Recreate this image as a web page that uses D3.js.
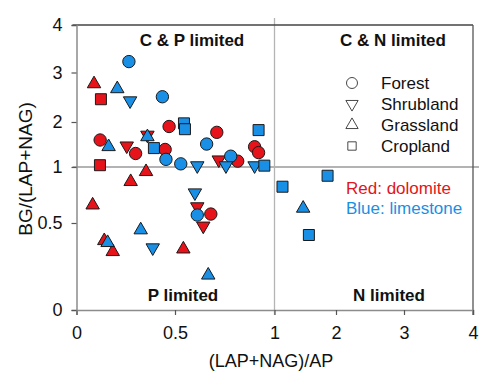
<!DOCTYPE html>
<html>
<head>
<meta charset="utf-8">
<script src="https://cdn.jsdelivr.net/npm/d3@7"></script>
<style>
  body { margin: 0; background: #fff; }
  text { font-family: "Liberation Sans", Arial, sans-serif; }
</style>
</head>
<body>
<div id="chart"></div>
<script>

// tick values (axes are piecewise: 0-1 stretched, 1-4 compressed)
var x_ticks = [0, 0.5, 1, 2, 3, 4];
var y_ticks = [0, 0.5, 1, 2, 3, 4];

var land_uses = ["Forest", "Shrubland", "Grassland", "Cropland"];

// Red: dolomite  [ (LAP+NAG)/AP , BG/(LAP+NAG) ]
var red_forest = [
    [0.47, 1.90], [0.71, 1.77], [0.12, 1.60], [0.30, 1.30], [0.45, 1.39],
    [0.90, 1.45], [0.92, 1.32], [0.815, 1.13], [0.68, 0.58]
];
var red_shrub = [
    [0.255, 1.47], [0.36, 1.71], [0.72, 1.16], [0.612, 0.646], [0.642, 0.483]
];
var red_grass = [
    [0.089, 2.77], [0.353, 0.958], [0.275, 0.869], [0.082, 0.66],
    [0.141, 0.398], [0.184, 0.335], [0.542, 0.35]
];
var red_crop = [
    [0.124, 2.46], [0.119, 1.04]
];

// Blue: limestone
var blue_forest = [
    [0.266, 3.23], [0.436, 2.51], [0.659, 1.51], [0.454, 1.17],
    [0.529, 1.07], [0.78, 1.24], [0.612, 0.571]
];
var blue_shrub = [
    [0.272, 2.43], [0.612, 1.03], [0.756, 1.03], [0.90, 1.03],
    [0.60, 0.77], [0.387, 0.358]
];
var blue_grass = [
    [0.207, 2.67], [0.163, 1.45], [0.36, 1.67], [0.326, 0.46],
    [0.158, 0.387], [0.667, 0.20], [1.466, 0.631]
];
var blue_crop = [
    [0.545, 1.97], [0.55, 1.84], [0.92, 1.82], [0.393, 1.42],
    [0.949, 1.03], [1.13, 0.824], [1.863, 0.922], [1.559, 0.431]
];

// --------------------------------------------------------

var chart_width  = 500;
var chart_height = 376;

var red_fill  = "#e6131b";
var blue_fill = "#1a8fe6";

var svg = d3.select("#chart")
    .append("svg")
    .attr("width", chart_width)
    .attr("height", chart_height);

// piecewise scales, matching the tick spacing of the original
var x_scale = d3.scaleLinear()
    .domain(x_ticks)
    .range([76.5, 175, 274.5, 336, 404, 473]);

var y_scale = d3.scaleLinear()
    .domain(y_ticks)
    .range([310, 223, 167, 122, 72.5, 25]);

// --------------------------------------------------------
// frame and quadrant lines

var x0 = x_scale(0), x1 = x_scale(1), x4 = x_scale(4);
var y0 = y_scale(0), y1 = y_scale(1), y4 = y_scale(4);

var frame = svg.append("g");

// quadrant dividers
frame.append("line")
    .attr("x1", x0 - 4).attr("x2", x4 + 6)
    .attr("y1", y1).attr("y2", y1)
    .attr("stroke", "#9a9a9a").attr("stroke-width", 1.3);
frame.append("line")
    .attr("x1", x1).attr("x2", x1)
    .attr("y1", y4 - 7).attr("y2", y0 + 5)
    .attr("stroke", "#b4b4b4").attr("stroke-width", 1.3);

// top and right border
frame.append("line")
    .attr("x1", x0 - 4).attr("x2", x4)
    .attr("y1", y4).attr("y2", y4)
    .attr("stroke", "#444").attr("stroke-width", 1.3);
frame.append("line")
    .attr("x1", x4).attr("x2", x4)
    .attr("y1", y4).attr("y2", y0 + 5)
    .attr("stroke", "#555").attr("stroke-width", 1.3);

// axes
var x_axis = d3.axisBottom(x_scale)
    .tickValues(x_ticks)
    .tickSize(5)
    .tickPadding(11)
    .tickFormat(d3.format("~g"));

var y_axis = d3.axisLeft(y_scale)
    .tickValues(y_ticks)
    .tickSize(5)
    .tickPadding(9)
    .tickFormat(d3.format("~g"));

var gx = svg.append("g")
    .attr("transform", "translate(0," + y0 + ")")
    .call(x_axis);

var gy = svg.append("g")
    .attr("transform", "translate(" + x0 + ",0)")
    .call(y_axis);

[gx, gy].forEach(function (g) {
    g.select(".domain")
        .attr("stroke", "#8c8c8c")
        .attr("stroke-width", 1.5);
    g.selectAll(".tick line")
        .attr("stroke", "#555")
        .attr("stroke-width", 1.2);
    g.selectAll(".tick text")
        .attr("fill", "#111")
        .style("font-size", "18px")
        .style("font-family", "Liberation Sans, Arial, sans-serif");
});

// axis titles
svg.append("text")
    .attr("x", 271)
    .attr("y", 367)
    .attr("text-anchor", "middle")
    .style("font-size", "18px")
    .attr("fill", "#111")
    .text("(LAP+NAG)/AP");

svg.append("text")
    .attr("transform", "translate(32,169) rotate(-90)")
    .attr("text-anchor", "middle")
    .style("font-size", "19px")
    .attr("fill", "#111")
    .text("BG/(LAP+NAG)");

// --------------------------------------------------------
// points

var shapes = [
    { type: d3.symbolCircle,   size: 120, rot: 0 },
    { type: d3.symbolTriangle, size: 78,  rot: 180 },
    { type: d3.symbolTriangle, size: 78,  rot: 0 },
    { type: d3.symbolSquare,   size: 121, rot: 0 }
];

var groups = [
    { data: red_forest,  shape: 0, fill: red_fill },
    { data: red_shrub,   shape: 1, fill: red_fill },
    { data: red_grass,   shape: 2, fill: red_fill },
    { data: red_crop,    shape: 3, fill: red_fill },
    { data: blue_forest, shape: 0, fill: blue_fill },
    { data: blue_shrub,  shape: 1, fill: blue_fill },
    { data: blue_grass,  shape: 2, fill: blue_fill },
    { data: blue_crop,   shape: 3, fill: blue_fill }
];

var points = svg.append("g");

groups.forEach(function (grp) {
    var s = shapes[grp.shape];
    points.append("g")
        .selectAll("path")
        .data(grp.data)
        .enter()
        .append("path")
        .attr("d", d3.symbol().type(s.type).size(s.size))
        .attr("transform", function (d) {
            return "translate(" + x_scale(d[0]) + "," + y_scale(d[1]) + ") rotate(" + s.rot + ")";
        })
        .attr("fill", grp.fill)
        .attr("stroke", "#1a1a1a")
        .attr("stroke-width", 1);
});

// --------------------------------------------------------
// quadrant labels

var quad_labels = [
    { text: "C & P limited", x: 192, y: 46 },
    { text: "C & N limited", x: 393, y: 46 },
    { text: "P limited",     x: 183, y: 301 },
    { text: "N limited",     x: 389, y: 301 }
];

svg.append("g")
    .selectAll("text")
    .data(quad_labels)
    .enter()
    .append("text")
    .attr("x", function (d) { return d.x; })
    .attr("y", function (d) { return d.y; })
    .attr("text-anchor", "middle")
    .style("font-size", "17px")
    .style("font-weight", "bold")
    .attr("fill", "#111")
    .text(function (d) { return d.text; });

// --------------------------------------------------------
// legend

var legend = svg.append("g")
    .attr("transform", "translate(352,83)");

legend.selectAll("path")
    .data(land_uses)
    .enter()
    .append("path")
    .attr("d", function (d, i) {
        return d3.symbol().type(shapes[i].type).size(i === 3 ? 70 : (i === 0 ? 95 : 65))();
    })
    .attr("transform", function (d, i) {
        return "translate(0," + (i * 21) + ") rotate(" + shapes[i].rot + ")";
    })
    .attr("fill", "none")
    .attr("stroke", "#333")
    .attr("stroke-width", 0.9);

legend.selectAll("text")
    .data(land_uses)
    .enter()
    .append("text")
    .attr("x", 29)
    .attr("y", function (d, i) { return i * 21 + 6; })
    .style("font-size", "17px")
    .attr("fill", "#111")
    .text(function (d) { return d; });

svg.append("text")
    .attr("x", 346).attr("y", 194)
    .style("font-size", "17px")
    .attr("fill", "#e3141b")
    .text("Red: dolomite");

svg.append("text")
    .attr("x", 346).attr("y", 214)
    .style("font-size", "17px")
    .attr("fill", "#1b8fe3")
    .text("Blue: limestone");

</script>
</body>
</html>
